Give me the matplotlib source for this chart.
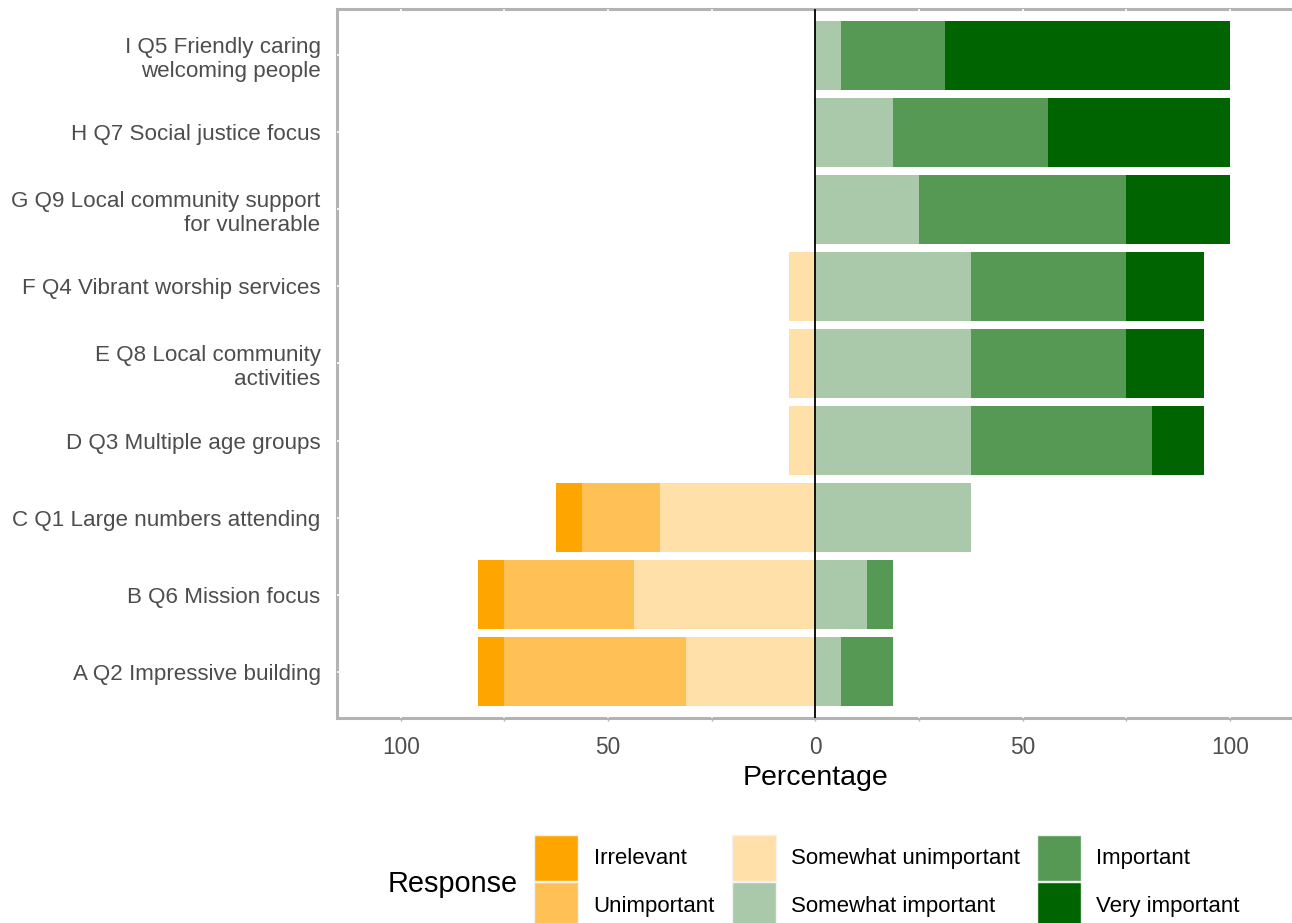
import matplotlib.pyplot as plt
from matplotlib.patches import Patch
import numpy as np

plt.rcParams['font.family'] = ['Liberation Sans', 'DejaVu Sans']

# data (percent of respondents), bottom category first
items = ['A Q2 Impressive building',
         'B Q6 Mission focus',
         'C Q1 Large numbers attending',
         'D Q3 Multiple age groups',
         'E Q8 Local community\nactivities',
         'F Q4 Vibrant worship services',
         'G Q9 Local community support\nfor vulnerable',
         'H Q7 Social justice focus',
         'I Q5 Friendly caring\nwelcoming people']
responses = ['Irrelevant', 'Unimportant', 'Somewhat unimportant',
             'Somewhat important', 'Important', 'Very important']
irrelevant = [6.25, 6.25, 6.25, 0, 0, 0, 0, 0, 0]
unimportant = [43.75, 31.25, 18.75, 0, 0, 0, 0, 0, 0]
somewhat_unimportant = [31.25, 43.75, 37.5, 6.25, 6.25, 6.25, 0, 0, 0]
somewhat_important = [6.25, 12.5, 37.5, 37.5, 37.5, 37.5, 25, 18.75, 6.25]
important = [12.5, 6.25, 0, 43.75, 37.5, 37.5, 50, 37.5, 25]
very_important = [0, 0, 0, 12.5, 18.75, 18.75, 25, 43.75, 68.75]

colors = ['#FFA500', '#FFC155', '#FEE0A8', '#AAC9AA', '#559955', '#006400']

fig = plt.figure(figsize=(12.92, 9.23), dpi=100)
ax = fig.add_axes([336.5 / 1292, 1 - 718 / 923, 957.5 / 1292, 709 / 923])

y = np.arange(len(items))
h = 0.9

# negative side: stack outward from zero
left = np.zeros(len(items))
for vals, col in [(somewhat_unimportant, colors[2]), (unimportant, colors[1]),
                  (irrelevant, colors[0])]:
    vals = np.array(vals)
    ax.barh(y, -vals, left=-left, height=h, color=col, zorder=2)
    left += vals

# positive side
left = np.zeros(len(items))
for vals, col in [(somewhat_important, colors[3]), (important, colors[4]),
                  (very_important, colors[5])]:
    vals = np.array(vals)
    ax.barh(y, vals, left=left, height=h, color=col, zorder=2)
    left += vals

ax.axvline(0, color='black', lw=1.3, zorder=3)

ax.set_xlim(-115.5, 115.5)
ax.set_ylim(-0.6, len(items) - 0.4)
ax.set_xticks([-100, -50, 0, 50, 100])
ax.set_xticklabels(['100', '50', '0', '50', '100'])
ax.set_xticks([-75, -25, 25, 75], minor=True)
ax.set_yticks(y)
ax.set_yticklabels(items, linespacing=1.2)

ax.set_axisbelow(True)
ax.grid(True, which='both', color='white', lw=1.2)
for s in ax.spines.values():
    s.set_color('#B3B3B3')
    s.set_linewidth(2.2)
    s.set_zorder(0.3)

ax.tick_params(axis='x', which='both', length=2, color='#B3B3B3', width=1,
               labelsize=16.3, labelcolor='#4D4D4D', pad=11)
ax.tick_params(axis='y', length=0, labelsize=16.1, labelcolor='#4D4D4D', pad=11.5)
ax.set_xlabel('Percentage', fontsize=20.5, labelpad=4)

handles = [Patch(facecolor=c, edgecolor='#F2F2F2', lw=1) for c in colors]
fig.legend(handles, responses, ncol=3, loc='upper left',
           bbox_to_anchor=(534 / 1292, 1 - 835 / 923), frameon=False,
           fontsize=16, handlelength=2.0, handleheight=2.78,
           handletextpad=0.68, columnspacing=0.75, labelspacing=0.08,
           borderpad=0, borderaxespad=0)
fig.text(388 / 1292, 1 - 884 / 923, 'Response', fontsize=20.8, va='center')

fig.savefig('out.png', dpi=100)
